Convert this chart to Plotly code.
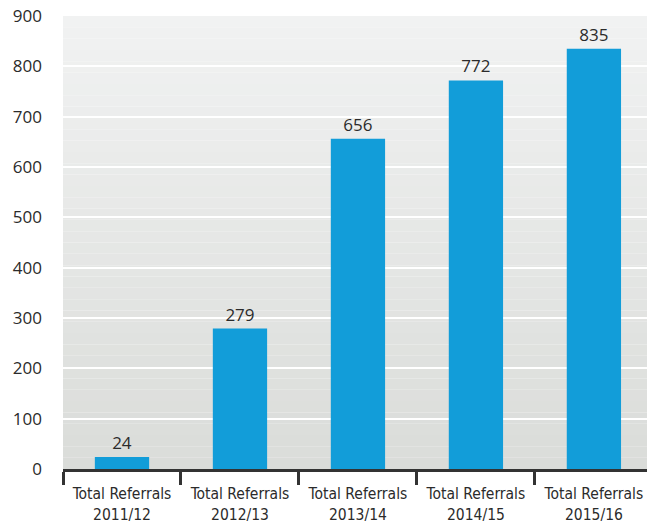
import plotly.graph_objects as go

# Referrals per financial year
years = ["2011/12", "2012/13", "2013/14", "2014/15", "2015/16"]
referrals = [24, 279, 656, 772, 835]
category_labels = ["Total Referrals<br>" + y for y in years]
y_ticks = [0, 100, 200, 300, 400, 500, 600, 700, 800, 900]

TEXT = "#2b2b2b"

fig = go.Figure(
    go.Bar(
        x=category_labels,
        y=referrals,
        width=0.46,
        marker=dict(color="#129dd9", line=dict(width=0)),
        text=referrals,
        textposition="outside",
        cliponaxis=False,
        textfont=dict(family="Open Sans, DejaVu Sans", size=17, color=TEXT),
    )
)

# Soft vertical gradient behind the bars, light at the top and greyer at the bottom
top = (241, 242, 242)
bottom = (218, 220, 217)
n = 40
shapes = []
for i in range(n):
    t = i / (n - 1)
    c = tuple(round(top[k] + (bottom[k] - top[k]) * t) for k in range(3))
    shapes.append(dict(
        type="rect", xref="x domain", yref="y domain",
        x0=0, x1=1, y0=1 - (i + 1) / n, y1=1 - i / n,
        fillcolor="rgb(%d,%d,%d)" % c, line=dict(width=0), layer="below",
    ))

fig.update_layout(
    width=647, height=529,
    margin=dict(l=63, r=0, t=16, b=60),
    paper_bgcolor="white",
    plot_bgcolor="rgba(0,0,0,0)",
    shapes=shapes,
    showlegend=False,
    xaxis=dict(
        type="category",
        range=[-0.5, 4.45],
        tickson="boundaries",
        tickangle=0,
        ticks="outside", ticklen=13, tickwidth=2.5, tickcolor="#333333",
        showline=True, linewidth=2.5, linecolor="#333333",
        showgrid=False,
        ticklabelstandoff=9,
        tickfont=dict(family="DejaVu Sans Condensed, Liberation Sans Narrow", size=15.5, color=TEXT),
        automargin=False,
    ),
    yaxis=dict(
        range=[0, 900],
        tickvals=y_ticks,
        showgrid=True, gridcolor="white", gridwidth=2,
        zeroline=False, showline=False, ticks="",
        ticklabelstandoff=20,
        tickfont=dict(family="Open Sans, DejaVu Sans", size=17, color=TEXT),
        automargin=False,
    ),
)

fig.write_html("out.html")
